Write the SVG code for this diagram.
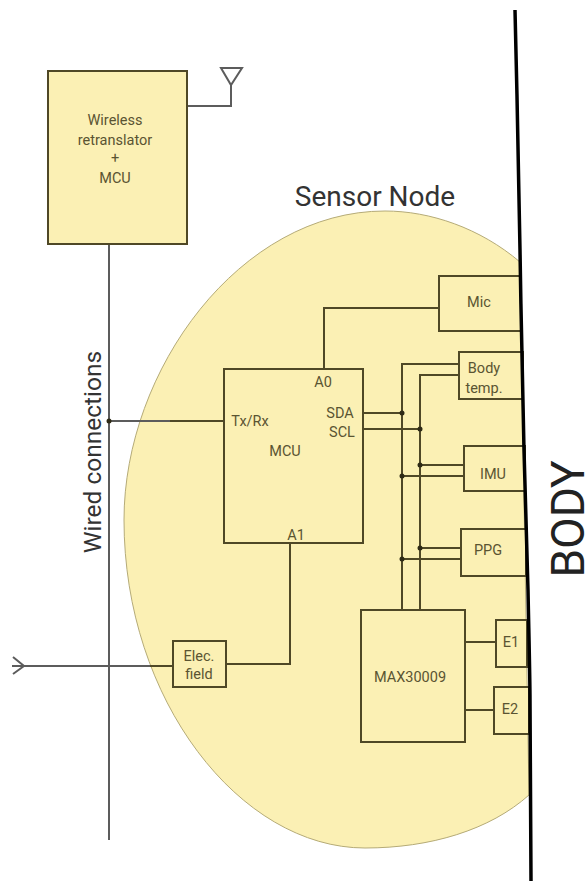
<svg xmlns="http://www.w3.org/2000/svg" width="586" height="882" viewBox="0 0 586 882">
<style>
.box{fill:#fbf0b4;stroke:#4f4826;stroke-width:2}
.in{fill:none;stroke:#4f4826;stroke-width:2}
.wire{fill:none;stroke:#5c5c5c;stroke-width:2}
.dot{fill:#2e2a16}
text{font-family:Roboto,"Liberation Sans",sans-serif;fill:#5a5432;text-anchor:middle;font-size:14.5px}
.big{fill:#333;font-size:24.5px}
</style>
<g id="sensor-node"><path d="M520,262 C480,228 430,211 385,211 C240,211 124,370 124,520 C124,700 240,848 365,848 C430,848 490,830 529,795 Z" fill="#fbf0b4" stroke="#b5ab78" stroke-width="1"/></g>
<text class="big" style="font-size:28px" x="375" y="206">Sensor Node</text>
<text class="big" transform="translate(101,452) rotate(-90)">Wired connections</text>
<text class="big" style="font-size:46px;fill:#222" transform="translate(584,519) rotate(-90)">BODY</text>
<g id="connectors">
<path class="wire" d="M187,106H231V85M221,68H242L231,85Z"/>
<path class="wire" d="M109,244V840M109,421H170M20,666H150"/>
<path class="wire" d="M13,657L24,666L13,674M12,666H24"/>
<path class="in" d="M150,666H173M170,421H224M226,664H290V543M324,369V308H439"/>
<path class="in" d="M402,610V364H459M420,610V375H459M363,413H402M363,429H420M420,465H464M402,476H464M420,548H461M402,559H461M465,642H496M465,710H494"/>
<circle class="dot" cx="109" cy="421" r="2.5"/>
<circle class="dot" cx="402" cy="413" r="2.5"/>
<circle class="dot" cx="420" cy="429" r="2.5"/>
<circle class="dot" cx="420" cy="465" r="2.5"/>
<circle class="dot" cx="402" cy="476" r="2.5"/>
<circle class="dot" cx="420" cy="548" r="2.5"/>
<circle class="dot" cx="402" cy="559" r="2.5"/>
</g>
<g id="wireless"><rect class="box" x="48" y="71" width="139" height="173"/><text x="115" y="125">Wireless</text><text x="115" y="145">retranslator</text><text x="115" y="163">+</text><text x="115" y="183">MCU</text></g>
<g id="mcu"><rect class="box" x="224" y="369" width="139" height="174"/><text x="323" y="387">A0</text><text x="340" y="418">SDA</text><text x="342" y="437">SCL</text><text x="250" y="426">Tx/Rx</text><text x="285" y="456">MCU</text><text x="296" y="540">A1</text></g>
<g id="mic"><rect class="box" x="439" y="276" width="82" height="55"/><text x="479" y="307">Mic</text></g>
<g id="body-temp"><rect class="box" x="459" y="352" width="64" height="47"/><text x="484" y="373">Body</text><text x="484" y="393">temp.</text></g>
<g id="imu"><rect class="box" x="464" y="446" width="61" height="45"/><text x="493" y="479">IMU</text></g>
<g id="ppg"><rect class="box" x="461" y="529" width="65" height="47"/><text x="488" y="555">PPG</text></g>
<g id="max30009"><rect class="box" x="361" y="610" width="104" height="132"/><text x="410" y="682">MAX30009</text></g>
<g id="e1"><rect class="box" x="496" y="620" width="31" height="47"/><text x="511" y="647">E1</text></g>
<g id="e2"><rect class="box" x="494" y="687" width="35" height="47"/><text x="510" y="714">E2</text></g>
<g id="elec-field"><rect class="box" x="173" y="641" width="53" height="46"/><text x="199" y="661">Elec.</text><text x="199" y="679">field</text></g>
<g id="body"><path d="M515,10 C517,90 519,190 520,250 C521,320 523,400 524,450 C525,500 527,550 528,590 C529,640 530,680 530,700 C531,780 531,840 531,881" fill="none" stroke="#000" stroke-width="3.5"/></g>
</svg>
